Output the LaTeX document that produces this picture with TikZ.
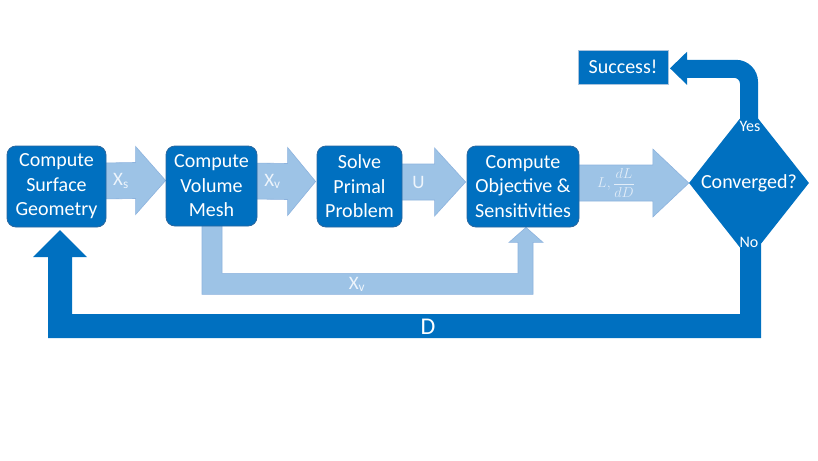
\documentclass[tikz,border=0pt]{standalone}
\usepackage{fontspec}
\setmainfont{Carlito}
\usetikzlibrary{calc,shapes.geometric}
\definecolor{dblue}{HTML}{0070C0}
\definecolor{lblue}{HTML}{9DC3E6}
\definecolor{ledge}{HTML}{8DB3DE}
\definecolor{bedge}{HTML}{2A679F}
\definecolor{ltext}{HTML}{EEF5FC}
\definecolor{mtext}{HTML}{E2EDF8}
\definecolor{sedge}{HTML}{A9C3DD}
\pgfdeclarelayer{bg}
\pgfsetlayers{bg,main}
\newcommand\hblock[4]{%
  \begin{pgfonlayer}{bg}
  \draw[blk] ($(#1)+(-4,-18)$) -- ($(#2)+(-#3,-18)$) -- ($(#2)+(-#3,-34)$) -- (#2)
     -- ($(#2)+(-#3,34)$) -- ($(#2)+(-#3,18)$) -- ($(#1)+(-4,18)$) -- cycle;
  \end{pgfonlayer}
  \path (#1) -- ($(#2)+(-#3,0)$) node[midway, alabel] {#4};}
\begin{document}
\begin{tikzpicture}[x=1pt,y=-1pt,
  box/.style={draw=bedge, line width=0.8pt, fill=dblue, text=white, rounded corners=9pt,
    align=center, inner sep=0pt, font=\fontsize{20}{24.5}\selectfont},
  blk/.style={fill=lblue, draw=ledge, line width=0.6pt},
  alabel/.style={text=ltext, font=\fontsize{19}{22}\selectfont, inner sep=0pt},
  wlabel/.style={text=white, inner sep=0pt}]
\begin{pgfonlayer}{bg}
\fill[white] (0,0) rectangle (818,460);
\end{pgfonlayer}
\useasboundingbox (0,0) rectangle (818,460);

% boxes
\node[box, minimum width=99pt, minimum height=81pt] (b1) at (56.5,186.5) {Compute\\Surface\\Geometry};
\node[box, minimum width=91pt, minimum height=80pt] (b2) at (211.5,186) {Compute\\Volume\\Mesh};
\node[box, minimum width=85pt, minimum height=81pt] (b3) at (359.5,186.5) {Solve\\Primal\\Problem};
\node[box, minimum width=112pt, minimum height=81pt] (b4) at (523,186.5) {Compute\\Objective \&\\Sensitivities};
\node[diamond, fill=dblue, minimum width=120pt, minimum height=152pt, inner sep=0pt,
  text=white, font=\fontsize{20}{24}\selectfont] (d) at (749,183) {Converged?};
\node[fill=dblue, draw=sedge, line width=0.8pt, minimum width=90pt, minimum height=34pt,
  inner sep=0pt, text=white, font=\fontsize{20}{24}\selectfont] (s) at (623,67) {Success!};

% block arrows along the main row
\hblock{[yshift=5.5pt]b1.east}{[yshift=5.5pt]b2.west}{30}{X\textsubscript{s}}
\hblock{[yshift=5pt]b2.east}{[yshift=5pt,xshift=-1pt]b3.west}{28}{X\textsubscript{v}}
\hblock{[yshift=4.5pt]b3.east}{[yshift=4.5pt,xshift=-1pt]b4.west}{31}{U}
\hblock{b4.east |- d.west}{d.west}{36}{\fontsize{13.5}{15}\selectfont\color{mtext}$L,\displaystyle\frac{dL}{dD}$}

% X_v bypass arrow
\begin{pgfonlayer}{bg}
\begin{scope}[shift={(b2.south)}]
\draw[blk] (-9.5,-6) -- (-9.5,68) -- (321.5,68) -- (321.5,16) -- (331.5,16) -- (314.5,1)
  -- (297.5,16) -- (306.5,16) -- (306.5,47) -- (10.5,47) -- (10.5,-6) -- cycle;
\end{scope}
\end{pgfonlayer}
\path (b2.south) ++(145.5,58) node[alabel] (xvl) {X\textsubscript{v}};

% Yes path to Success
\begin{scope}[shift={(d.north)}]
\fill[dblue] (-9,15) -- (-9,-23) .. controls (-9,-26.3) and (-11.7,-29) .. (-15,-29)
  -- (-62,-29) -- (-62,-22) -- (-79,-38.5) -- (-62,-55) -- (-62,-47) -- (-13,-47)
  .. controls (-0.9,-47) and (9,-37.1) .. (9,-25) -- (9,15) -- cycle;
\end{scope}
\path (d.north) ++(1,20) node[wlabel, font=\fontsize{16}{18}\selectfont] (yes) {Yes};

% No path back with D
\begin{scope}[shift={(d.south)}]
\fill[dblue] (-9,-15) -- (-9,55) -- (-677,55) -- (-677,-2) -- (-662,-2) -- (-689,-29)
  -- (-716,-2) -- (-701,-2) -- (-701,79) -- (12,79) -- (12,-15) -- cycle;
\end{scope}
\path (d.south) ++(0,-17) node[wlabel, font=\fontsize{16}{18}\selectfont] (no) {No};
\path (d.south) ++(-321,68) node[wlabel, font=\fontsize{24}{26}\selectfont] (dl) {D};
\end{tikzpicture}
\end{document}
